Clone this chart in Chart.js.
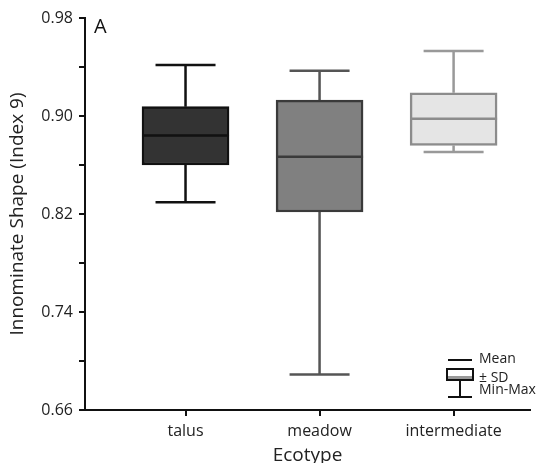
<!DOCTYPE html>
<html>
<head>
<meta charset="utf-8">
<script src="https://cdn.jsdelivr.net/npm/chart.js@4/dist/chart.umd.min.js"></script>
<style>
  html, body { margin: 0; padding: 0; background: #fff; }
  #wrap { width: 539px; height: 463px; }
</style>
</head>
<body>
<div id="wrap"><canvas id="chart" width="539" height="463"></canvas></div>
<script>
// Data
const categories = ['talus', 'meadow', 'intermediate'];
const minVals  = [0.8295, 0.689, 0.8706];
const sdLow    = [0.860, 0.8216, 0.876];
const means    = [0.884, 0.8668, 0.8978];
const sdHigh   = [0.9076, 0.913, 0.919];
const maxVals  = [0.9416, 0.937, 0.953];
const yTickVals = [0.66, 0.70, 0.74, 0.78, 0.82, 0.86, 0.90, 0.94, 0.98];
const yLabeled  = ['0.66', '0.74', '0.82', '0.90', '0.98'];

const fills    = ['#333333', '#808080', '#e5e5e5'];
const borders  = ['#111111', '#3a3a3a', '#8c8c8c'];
const whiskers = ['#111111', '#555555', '#999999'];

const FONT = '"Open Sans", sans-serif';

// whiskers (under boxes) and mean lines (over boxes)
const boxPlot = {
  id: 'boxPlot',
  beforeDatasetsDraw(chart) {
    const { ctx, scales: { x, y } } = chart;
    ctx.save();
    ctx.lineWidth = 2.5;
    categories.forEach((c, i) => {
      const px = x.getPixelForValue(i + 1);
      ctx.strokeStyle = whiskers[i];
      ctx.beginPath();
      ctx.moveTo(px, y.getPixelForValue(maxVals[i]));
      ctx.lineTo(px, y.getPixelForValue(sdHigh[i]));
      ctx.moveTo(px, y.getPixelForValue(sdLow[i]));
      ctx.lineTo(px, y.getPixelForValue(minVals[i]));
      ctx.moveTo(px - 30, y.getPixelForValue(maxVals[i]));
      ctx.lineTo(px + 30, y.getPixelForValue(maxVals[i]));
      ctx.moveTo(px - 30, y.getPixelForValue(minVals[i]));
      ctx.lineTo(px + 30, y.getPixelForValue(minVals[i]));
      ctx.stroke();
    });
    ctx.restore();
  },
  afterDatasetsDraw(chart) {
    const { ctx, scales: { y } } = chart;
    const meta = chart.getDatasetMeta(0);
    ctx.save();
    ctx.lineWidth = 2.5;
    meta.data.forEach((bar, i) => {
      const py = y.getPixelForValue(means[i]);
      ctx.strokeStyle = borders[i];
      ctx.beginPath();
      ctx.moveTo(bar.x - bar.width / 2, py);
      ctx.lineTo(bar.x + bar.width / 2, py);
      ctx.stroke();
    });
    ctx.restore();
  },
  afterDraw(chart) {
    const { ctx } = chart;
    ctx.save();
    // panel letter
    ctx.fillStyle = '#111';
    ctx.font = '20px ' + FONT;
    ctx.textBaseline = 'alphabetic';
    ctx.fillText('A', 94, 33);
    // key
    ctx.strokeStyle = '#111';
    ctx.lineWidth = 2;
    ctx.beginPath();
    ctx.moveTo(448, 360); ctx.lineTo(472, 360);
    ctx.stroke();
    ctx.fillStyle = '#fff';
    ctx.fillRect(447, 369, 26, 11);
    ctx.fillStyle = '#999';
    ctx.fillRect(447, 376, 26, 4);
    ctx.strokeRect(447, 369, 26, 11);
    ctx.beginPath();
    ctx.moveTo(460, 380); ctx.lineTo(460, 397);
    ctx.moveTo(448, 397); ctx.lineTo(472, 397);
    ctx.stroke();
    ctx.fillStyle = '#222';
    ctx.font = '14px ' + FONT;
    ctx.textBaseline = 'middle';
    ctx.fillText('Mean', 479, 359);
    ctx.fillText('\u00b1 SD', 479, 378);
    ctx.fillText('Min-Max', 479, 390);
    ctx.restore();
  }
};

new Chart(document.getElementById('chart'), {
  type: 'bar',
  data: {
    datasets: [{
      data: categories.map((c, i) => ({ x: i + 1, y: [sdLow[i], sdHigh[i]] })),
      backgroundColor: fills,
      borderColor: borders,
      borderWidth: 2.5,
      borderSkipped: false,
      barThickness: 87
    }]
  },
  options: {
    responsive: false,
    animation: false,
    layout: { padding: { top: 18, right: 9, left: 0, bottom: 0 } },
    plugins: { legend: { display: false }, tooltip: { enabled: false } },
    scales: {
      x: {
        type: 'linear',
        offset: false,
        min: 0.25,
        max: 3.57,
        afterBuildTicks: s => { s.ticks = categories.map((c, i) => ({ value: i + 1 })); },
        afterFit: s => { s.height = 53; },
        border: { color: '#111', width: 2 },
        grid: { offset: false, drawOnChartArea: false, color: '#111', lineWidth: 2, tickLength: 6 },
        ticks: {
          color: '#222',
          font: { family: FONT, size: 16 },
          padding: 6,
          callback: v => categories[Math.round(v) - 1] || ''
        },
        title: {
          display: true,
          text: 'Ecotype',
          color: '#222',
          font: { family: FONT, size: 19 },
          padding: { top: 0, bottom: -4 }
        }
      },
      y: {
        min: 0.66,
        max: 0.98,
        afterBuildTicks: s => { s.ticks = yTickVals.map(v => ({ value: v })); },
        afterFit: s => { s.width = 85; },
        border: { color: '#111', width: 2 },
        grid: { drawOnChartArea: false, color: '#111', lineWidth: 2, tickLength: 6 },
        ticks: {
          color: '#222',
          font: { family: FONT, size: 16 },
          padding: 6,
          callback: v => {
            const t = v.toFixed(2);
            return yLabeled.includes(t) ? t : '';
          }
        },
        title: {
          display: true,
          text: 'Innominate Shape (Index 9)',
          color: '#222',
          font: { family: FONT, size: 19 },
          padding: { top: 6, bottom: 0 }
        }
      }
    }
  },
  plugins: [boxPlot]
});
</script>
</body>
</html>
